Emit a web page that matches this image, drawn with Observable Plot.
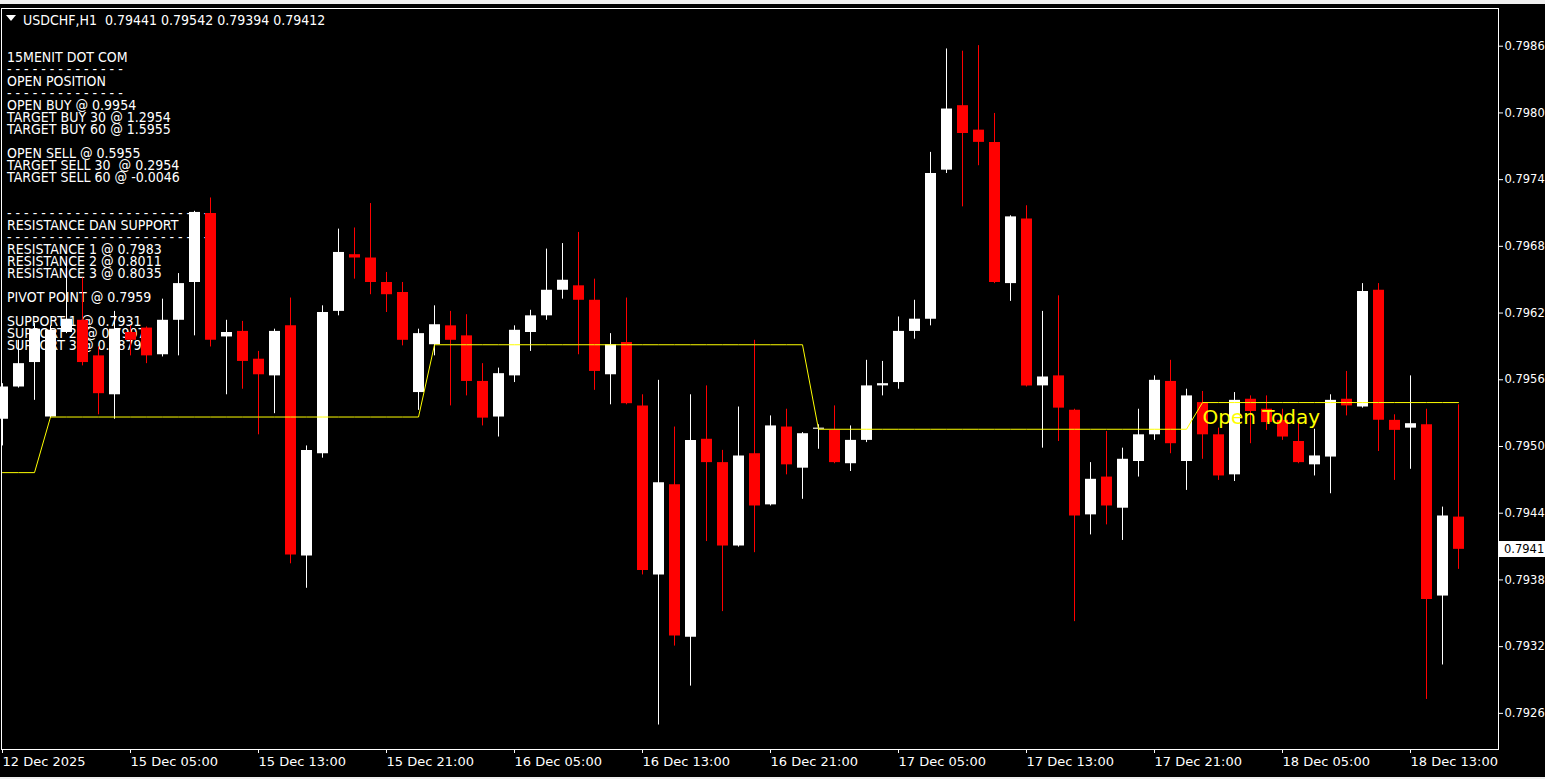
<!DOCTYPE html>
<html><head><meta charset="utf-8">
<script src="https://cdn.jsdelivr.net/npm/d3@7"></script>
<script src="https://cdn.jsdelivr.net/npm/@observablehq/plot@0.6"></script>
<style>
html,body{margin:0;padding:0;background:#000;overflow:hidden;}
#wrap{position:relative;width:1545px;height:779px;background:#000;overflow:hidden;}
.txt{position:absolute;font-family:"DejaVu Sans";font-size:14px;line-height:12px;color:#fff;white-space:pre;transform:scaleX(0.9);transform-origin:0 0;z-index:0;}
#chart svg{position:absolute;left:0;top:0;z-index:1;}
#topbar{position:absolute;left:0;top:0;width:1545px;height:4px;background:#f0f0f0;z-index:2}
#botbar{position:absolute;left:0;bottom:0;width:1545px;height:2px;background:#f0f0f0;z-index:2}
#tri{position:absolute;left:6px;top:15px;width:0;height:0;border-left:5px solid transparent;border-right:5px solid transparent;border-top:6px solid #fff;z-index:2}
#pricebox{position:absolute;left:1499px;width:46px;height:16px;background:#fff;color:#000;font-family:"DejaVu Sans";font-size:11.5px;line-height:16px;padding-left:5px;box-sizing:border-box;z-index:3;white-space:pre;}
</style></head>
<body>
<div id="wrap">
  <div id="topbar"></div>
  <div id="tri"></div>
  <div class="txt" id="header" style="left:23px;top:14px;"></div>
  <div class="txt" id="info" style="left:7px;top:51px;"></div>
  <div id="chart"></div>
  <div id="pricebox"></div>
  <div id="botbar"></div>
</div>
<script>
// ---- data (USDCHF H1, bars from 12 Dec 2025 21:00 to 18 Dec 2025 16:00) ----
const open = [0.79529,0.79558,0.79580,0.79531,0.79607,0.79618,0.79586,0.79551,0.79607,0.79611,
0.79587,0.79618,0.79652,0.79714,0.79603,0.79608,0.79583,0.79568,0.79613,0.79406,
0.79498,0.79626,0.79677,0.79674,0.79652,0.79643,0.79553,0.79596,0.79613,0.79604,
0.79563,0.79531,0.79568,0.79607,0.79622,0.79645,0.79649,0.79636,0.79569,0.79598,
0.79541,0.79389,0.79470,0.79333,0.79511,0.79490,0.79415,0.79498,0.79452,0.79522,
0.79485,0.79520,0.79519,0.79489,0.79510,0.79559,0.79562,0.79608,0.79619,0.79753,
0.79811,0.79789,0.79778,0.79651,0.79709,0.79559,0.79568,0.79537,0.79443,0.79477,
0.79449,0.79491,0.79515,0.79563,0.79491,0.79544,0.79515,0.79479,0.79547,0.79538,
0.79528,0.79509,0.79488,0.79495,0.79547,0.79540,0.79645,0.79528,0.79521,0.79524,
0.79370,0.79441];
const high = [0.79561,0.79600,0.79615,0.79613,0.79672,0.79656,0.79594,0.79626,0.79613,0.79612,
0.79637,0.79660,0.79716,0.79728,0.79618,0.79617,0.79590,0.79610,0.79638,0.79505,
0.79631,0.79700,0.79701,0.79723,0.79661,0.79652,0.79610,0.79631,0.79626,0.79623,
0.79579,0.79575,0.79613,0.79627,0.79682,0.79687,0.79697,0.79655,0.79606,0.79638,
0.79551,0.79564,0.79522,0.79551,0.79559,0.79501,0.79540,0.79600,0.79532,0.79538,
0.79517,0.79524,0.79541,0.79523,0.79582,0.79581,0.79621,0.79636,0.79769,0.79862,
0.79860,0.79865,0.79804,0.79712,0.79721,0.79626,0.79640,0.79538,0.79490,0.79518,
0.79503,0.79538,0.79568,0.79582,0.79556,0.79554,0.79521,0.79553,0.79550,0.79550,
0.79538,0.79528,0.79520,0.79551,0.79572,0.79651,0.79651,0.79533,0.79568,0.79538,
0.79450,0.79542];
const low = [0.79505,0.79557,0.79546,0.79530,0.79606,0.79577,0.79533,0.79529,0.79586,0.79579,
0.79585,0.79586,0.79604,0.79594,0.79551,0.79556,0.79515,0.79534,0.79399,0.79377,
0.79494,0.79622,0.79655,0.79641,0.79625,0.79595,0.79537,0.79586,0.79541,0.79550,
0.79523,0.79513,0.79562,0.79590,0.79618,0.79637,0.79587,0.79555,0.79542,0.79542,
0.79389,0.79254,0.79325,0.79289,0.79419,0.79356,0.79414,0.79409,0.79451,0.79479,
0.79457,0.79502,0.79489,0.79482,0.79508,0.79550,0.79556,0.79601,0.79613,0.79750,
0.79720,0.79757,0.79651,0.79635,0.79558,0.79503,0.79509,0.79347,0.79425,0.79434,
0.79420,0.79477,0.79510,0.79498,0.79465,0.79493,0.79474,0.79473,0.79507,0.79519,
0.79510,0.79489,0.79478,0.79462,0.79532,0.79539,0.79500,0.79474,0.79484,0.79277,
0.79308,0.79394];
const close = [0.79558,0.79579,0.79610,0.79609,0.79619,0.79580,0.79552,0.79610,0.79600,0.79586,
0.79618,0.79651,0.79715,0.79600,0.79607,0.79581,0.79569,0.79608,0.79407,0.79501,
0.79625,0.79679,0.79674,0.79652,0.79641,0.79600,0.79606,0.79614,0.79600,0.79563,
0.79530,0.79570,0.79609,0.79622,0.79645,0.79654,0.79636,0.79572,0.79596,0.79543,
0.79393,0.79472,0.79334,0.79510,0.79490,0.79415,0.79496,0.79451,0.79523,0.79488,
0.79516,0.79521,0.79490,0.79510,0.79559,0.79561,0.79608,0.79619,0.79750,0.79808,
0.79786,0.79778,0.79652,0.79711,0.79559,0.79567,0.79539,0.79442,0.79475,0.79451,
0.79493,0.79515,0.79564,0.79507,0.79550,0.79515,0.79478,0.79546,0.79536,0.79526,
0.79513,0.79490,0.79496,0.79546,0.79541,0.79644,0.79528,0.79519,0.79525,0.79367,
0.79442,0.79412];

// daily open ("Open Today") per trading day, and the bar index where each day starts
const dayStart = [0, 3, 27, 51, 75];
const dayOpen = [0.79481, 0.79531, 0.79596, 0.79520, 0.79544];

// axis ticks
const xTickBars = [0, 8, 16, 24, 32, 40, 48, 56, 64, 72, 80, 88];
const xTickLabels = ["12 Dec 2025","15 Dec 05:00","15 Dec 13:00","15 Dec 21:00","16 Dec 05:00","16 Dec 13:00",
  "16 Dec 21:00","17 Dec 05:00","17 Dec 13:00","17 Dec 21:00","18 Dec 05:00","18 Dec 13:00"];
const yTicks = [0.7926, 0.7932, 0.7938, 0.7944, 0.7950, 0.7956, 0.7962, 0.7968, 0.7974, 0.7980, 0.7986];

const headerText = "USDCHF,H1  0.79441 0.79542 0.79394 0.79412";
const infoLines = [
  "15MENIT DOT COM",
  "- - - - - - - - - - - - - -",
  "OPEN POSITION",
  "- - - - - - - - - - - - - -",
  "OPEN BUY @ 0.9954",
  "TARGET BUY 30 @ 1.2954",
  "TARGET BUY 60 @ 1.5955",
  "",
  "OPEN SELL @ 0.5955",
  "TARGET SELL 30  @ 0.2954",
  "TARGET SELL 60 @ -0.0046",
  "",
  "",
  "- - - - - - - - - - - - - - - - - - - - - - - -",
  "RESISTANCE DAN SUPPORT",
  "- - - - - - - - - - - - - - - - - - - - - - - -",
  "RESISTANCE 1 @ 0.7983",
  "RESISTANCE 2 @ 0.8011",
  "RESISTANCE 3 @ 0.8035",
  "",
  "PIVOT POINT @ 0.7959",
  "",
  "SUPPORT 1 @ 0.7931",
  "SUPPORT 2  @ 0.7907",
  "SUPPORT 3 @ 0.7879"
];

document.getElementById("header").textContent = headerText;
document.getElementById("info").textContent = infoLines.join("\n");

// ---- build tables ----
const bars = open.map((o, i) => ({i, open: o, high: high[i], low: low[i], close: close[i]}));
const candleColor = d => d.close >= d.open ? "#ffffff" : "#ff0000";
const dayIndex = i => d3.bisectRight(dayStart, i) - 1;
const openLine = bars.map(b => ({i: b.i, value: dayOpen[dayIndex(b.i)]}));
const last = bars[bars.length - 1];
const today = {i: dayStart[dayStart.length - 1], value: dayOpen[dayOpen.length - 1]};

const chart = Plot.plot({
  width: 1545,
  height: 779,
  marginLeft: 1,
  marginRight: 47,
  marginTop: 8,
  marginBottom: 30,
  style: {background: "transparent", color: "#ffffff", fontFamily: "DejaVu Sans", fontSize: "13px"},
  x: {type: "linear", domain: [-0.0625, 93.5], axis: null},
  y: {type: "linear", domain: [0.79232, 0.798984], axis: null},
  color: {type: "identity"},
  marks: [
    Plot.ruleX(bars, {x: "i", y1: "low", y2: "high", stroke: candleColor, strokeWidth: 1}),
    Plot.ruleX(bars, {x: "i", y1: "open", y2: "close", stroke: candleColor, strokeWidth: 11}),
    Plot.line(openLine, {x: "i", y: "value", stroke: "#ffff00", strokeWidth: 1, curve: "linear"}),
    Plot.text([today], {x: "i", y: "value", text: () => "Open Today", fill: "#ffff00", fontSize: 20, textAnchor: "start", dy: 15, fontFamily: "DejaVu Sans"}),
    Plot.frame({stroke: "#ffffff"}),
    Plot.axisY({anchor: "right", label: null, ticks: yTicks, tickFormat: d3.format(".4f"), tickSize: 4, tickPadding: 2, dy: -5, stroke: "#ffffff", fill: "#ffffff", fontSize: 11.5}),
    Plot.axisX({anchor: "bottom", label: null, ticks: xTickBars, tickFormat: d => xTickLabels[xTickBars.indexOf(d)], tickSize: 4, tickPadding: 3, textAnchor: "start", stroke: "#ffffff", fill: "#ffffff"})
  ]
});
document.getElementById("chart").appendChild(chart);

// current-price label on the right axis, placed through the chart's own y scale
const py = chart.scale("y").apply(last.close);
const box = document.getElementById("pricebox");
box.style.top = (Math.round(py) - 8) + "px";
box.textContent = d3.format(".4f")(last.close);
</script>
</body></html>
